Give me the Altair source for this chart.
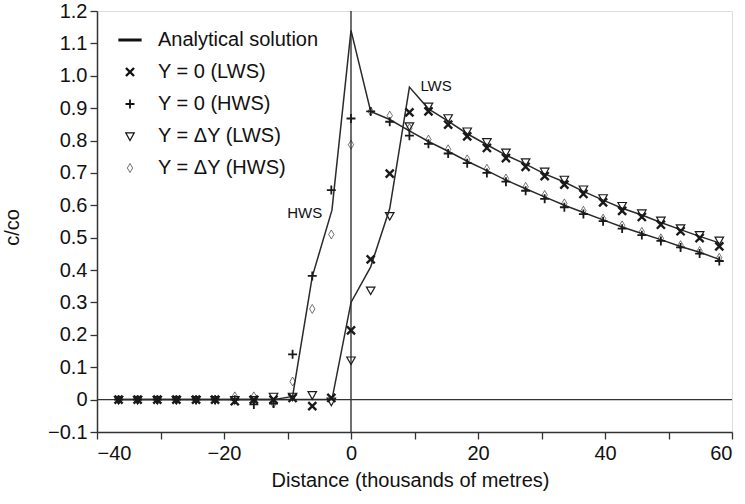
import altair as alt
import pandas as pd

FONT = "Liberation Sans"

# ---------------- data ----------------
series_names = ["Analytical solution", "Y = 0 (LWS)", "Y = 0 (HWS)", "Y = ΔY (LWS)", "Y = ΔY (HWS)"]

marker_x = [-36.6, -33.6, -30.5, -27.5, -24.4, -21.4, -18.3, -15.3, -12.2, -9.2, -6.1, -3.1,
            0.0, 3.1, 6.1, 9.2, 12.2, 15.3, 18.3, 21.4, 24.4, 27.5, 30.5, 33.6, 36.6, 39.7,
            42.7, 45.8, 48.8, 51.9, 54.9, 58.0]

y0_lws = [0, 0, 0, 0, 0, 0, -0.005, 0, 0, 0.005, -0.02, 0.005,
          0.214, 0.433, 0.698, 0.887, 0.89, 0.849, 0.813, 0.777, 0.746, 0.719, 0.690, 0.664,
          0.635, 0.609, 0.583, 0.564, 0.540, 0.520, 0.499, 0.473]

y0_hws = [0, 0, 0, 0, 0, 0, 0, -0.015, -0.012, 0.14, 0.382, 0.647,
          0.868, 0.89, 0.858, 0.815, 0.79, 0.76, 0.73, 0.70, 0.673, 0.645, 0.62, 0.594,
          0.573, 0.551, 0.528, 0.508, 0.49, 0.47, 0.451, 0.428]

dy_lws = [0, 0, 0, 0, 0, 0, 0, 0, 0.01, 0.01, 0.015, -0.005,
          0.122, 0.338, 0.568, 0.845, 0.906, 0.870, 0.829, 0.796, 0.764, 0.734, 0.705, 0.680,
          0.650, 0.623, 0.599, 0.576, 0.554, 0.530, 0.509, 0.492]

dy_hws = [0, 0, 0, 0, 0, 0, 0.01, 0.01, -0.012, 0.056, 0.28, 0.51,
          0.787, 0.89, 0.877, 0.838, 0.803, 0.773, 0.742, 0.713, 0.683, 0.657, 0.632, 0.606,
          0.583, 0.559, 0.538, 0.518, 0.498, 0.477, 0.459, 0.438]

hws_line_x = [-36.6, -12.2, -9.2, -6.1, -3.0, 0.0, 3.1, 6.1, 9.2, 12.2, 15.3, 18.3, 21.4, 24.4,
              27.5, 30.5, 33.6, 36.6, 39.7, 42.7, 45.8, 48.8, 51.9, 54.9, 58.0]
hws_line_y = [0, 0, 0.01, 0.38, 0.585, 1.14, 0.89, 0.865, 0.83, 0.797, 0.767, 0.736, 0.707, 0.678,
              0.651, 0.626, 0.600, 0.578, 0.555, 0.533, 0.513, 0.494, 0.473, 0.455, 0.433]

lws_line_x = [-36.6, -3.0, 0.0, 3.1, 6.1, 9.2, 12.2, 15.3, 18.3, 21.4, 24.4, 27.5, 30.5, 33.6,
              36.6, 39.7, 42.7, 45.8, 48.8, 51.9, 54.9, 58.0]
lws_line_y = [0, 0, 0.30, 0.41, 0.59, 0.965, 0.898, 0.86, 0.821, 0.787, 0.755, 0.727, 0.697, 0.672,
              0.643, 0.616, 0.591, 0.570, 0.547, 0.525, 0.504, 0.484]

annot_labels = ["HWS", "LWS"]
annot_x = [-7.3, 13.4]
annot_y = [0.575, 0.968]

x_tick_values = [-40, -30, -20, -10, 0, 10, 20, 30, 40, 50, 60]
y_tick_values = [-0.1, 0.0, 0.1, 0.2, 0.3, 0.4, 0.5, 0.6, 0.7, 0.8, 0.9, 1.0, 1.1, 1.2]

# marker glyphs (legend symbol for the analytical line is a long dash)
shape_paths = [
    "M-2.6,0L2.6,0",
    "M-0.9,-0.9L0.9,0.9M-0.9,0.9L0.9,-0.9",
    "M-1,0L1,0M0,-1L0,1",
    "M-0.95,-0.7L0.95,-0.7L0,1Z",
    "M0,-1L0.6,0L0,1L-0.6,0Z",
]
stroke_widths = [3, 0.6, 0.9, 0.9, 0.9]

# ---------------- tables ----------------
pts = pd.concat([
    pd.DataFrame({"x": marker_x, "y": y0_lws, "series": series_names[1]}),
    pd.DataFrame({"x": marker_x, "y": y0_hws, "series": series_names[2]}),
    pd.DataFrame({"x": marker_x, "y": dy_lws, "series": series_names[3]}),
    pd.DataFrame({"x": marker_x, "y": dy_hws, "series": series_names[4]}),
], ignore_index=True)

lines = pd.concat([
    pd.DataFrame({"x": hws_line_x, "y": hws_line_y, "curve": "HWS"}),
    pd.DataFrame({"x": lws_line_x, "y": lws_line_y, "curve": "LWS"}),
], ignore_index=True)

annots = pd.DataFrame({"label": annot_labels, "x": annot_x, "y": annot_y})

xscale = alt.Scale(domain=[-40, 60], nice=False, zero=False)
yscale = alt.Scale(domain=[-0.1, 1.2], nice=False, zero=False)

x_axis = alt.Axis(
    values=x_tick_values,
    labelExpr="datum.value % 20 == 0 ? datum.label : ''",
    format="d",
    title="Distance (thousands of metres)",
    grid=False, tickSize=7, labelPadding=4,
    labelFontSize=20, titleFontSize=20, titleFontWeight="normal",
    labelFont=FONT, titleFont=FONT, labelColor="#111", titleColor="#111",
    domainColor="#333", tickColor="#333", domainWidth=1.5, tickWidth=1.3,
    titleX=313, titleY=38, titleBaseline="top",
)
y_axis = alt.Axis(
    values=y_tick_values,
    labelExpr="abs(datum.value) < 1e-9 ? '0' : format(datum.value, '.1f')",
    title="c/co",
    grid=False, tickSize=7, labelPadding=3,
    labelFontSize=20, titleFontSize=20, titleFontWeight="normal",
    labelFont=FONT, titleFont=FONT, labelColor="#111", titleColor="#111",
    domainColor="#333", tickColor="#333", domainWidth=1.5, tickWidth=1.3,
    titleX=-85, titleY=216, titleAngle=-90, titleBaseline="middle", titleAlign="center",
)

legend = alt.Legend(
    orient="none", legendX=23, legendY=19, title=None,
    labelFontSize=20, labelFont=FONT, labelColor="#111", labelLimit=400,
    labelOffset=18, rowPadding=12, padding=0,
    symbolStrokeColor="#111", symbolSize=80, symbolFillColor="transparent",
)

rule_v = alt.Chart(pd.DataFrame({"v": [0]})).mark_rule(color="#333", strokeWidth=1.4).encode(
    x=alt.X("v:Q", scale=xscale, axis=x_axis)
)
rule_h = alt.Chart(pd.DataFrame({"v": [0]})).mark_rule(color="#333", strokeWidth=1.4).encode(
    y=alt.Y("v:Q", scale=yscale, axis=y_axis)
)

line_layer = alt.Chart(lines).mark_line(color="#2a2a2a", strokeWidth=1.5).encode(
    x=alt.X("x:Q", scale=xscale, axis=x_axis),
    y=alt.Y("y:Q", scale=yscale, axis=y_axis),
    detail="curve:N",
    order="x:Q",
)

point_layer = alt.Chart(pts).mark_point(filled=False, color="#1a1a1a", size=80, opacity=1).encode(
    x=alt.X("x:Q", scale=xscale, axis=x_axis),
    y=alt.Y("y:Q", scale=yscale, axis=y_axis),
    shape=alt.Shape("series:N", scale=alt.Scale(domain=series_names, range=shape_paths),
                    legend=legend, sort=series_names),
    strokeWidth=alt.StrokeWidth("series:N", scale=alt.Scale(domain=series_names, range=stroke_widths),
                                legend=legend, sort=series_names),
)

text_layer = alt.Chart(annots).mark_text(fontSize=15, font=FONT, color="#111").encode(
    x=alt.X("x:Q", scale=xscale, axis=x_axis),
    y=alt.Y("y:Q", scale=yscale, axis=y_axis),
    text="label:N",
)

chart = alt.layer(rule_v, rule_h, line_layer, point_layer, text_layer).properties(
    width=635, height=421,
    autosize=alt.AutoSizeParams(type="none"),
    padding={"left": 97, "top": 11, "right": 13, "bottom": 72},
).configure_view(stroke="#333", strokeWidth=1.5).configure(background="white")

chart.save("out.html", embed_options={"renderer": "svg", "actions": False})
